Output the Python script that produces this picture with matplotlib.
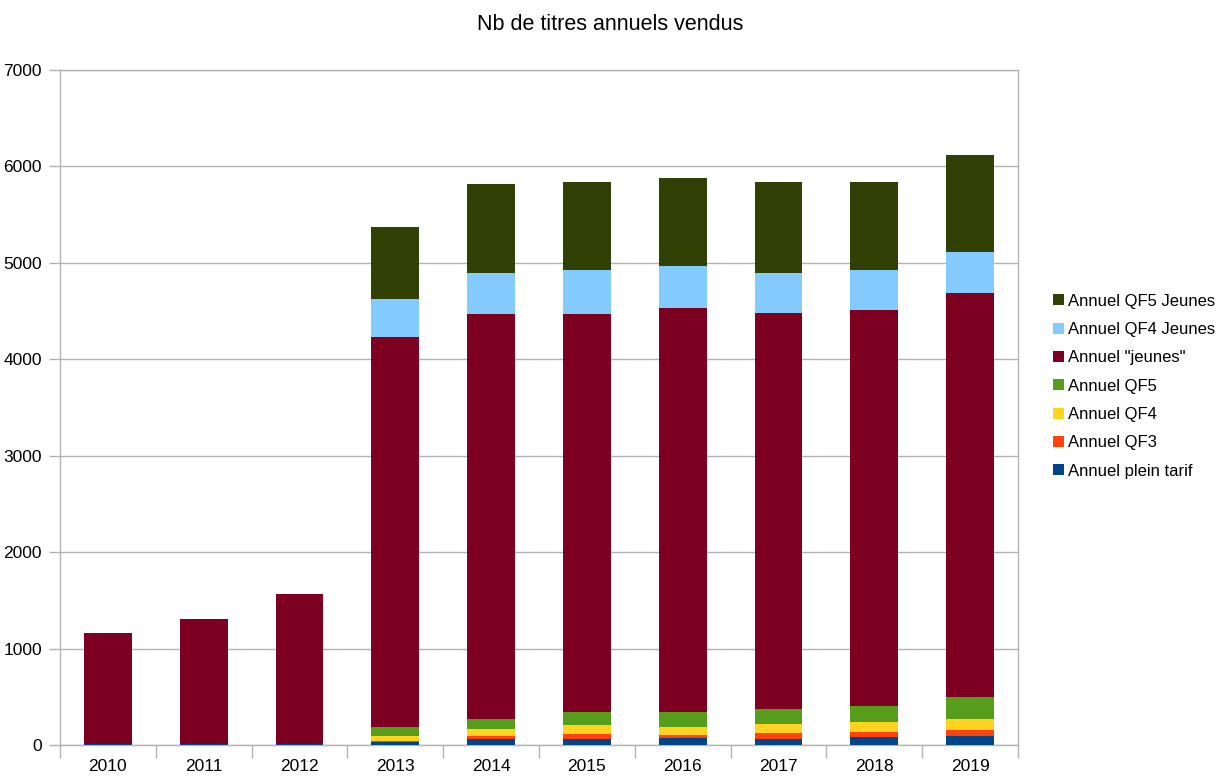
import numpy as np
import matplotlib
matplotlib.use('Agg')
import matplotlib.pyplot as plt
from matplotlib.ticker import FixedLocator, NullFormatter

plt.rcParams['font.family'] = ['Liberation Sans', 'DejaVu Sans']

# données
annees = ['2010', '2011', '2012', '2013', '2014', '2015', '2016', '2017', '2018', '2019']
plein_tarif = [10, 10, 10, 28, 62, 62, 76, 62, 80, 90]
qf3 = [0, 0, 0, 14, 28, 48, 31, 62, 59, 66]
qf4 = [0, 0, 0, 48, 80, 93, 80, 93, 97, 111]
qf5 = [0, 0, 0, 97, 97, 139, 155, 155, 173, 235]
jeunes = [1150, 1295, 1560, 4040, 4198, 4123, 4185, 4107, 4101, 4181]
qf4_jeunes = [0, 0, 0, 394, 425, 456, 442, 411, 411, 427]
qf5_jeunes = [0, 0, 0, 756, 932, 915, 915, 946, 915, 1013]

series = [
    ('Annuel plein tarif', plein_tarif, '#004586'),
    ('Annuel QF3', qf3, '#ff420e'),
    ('Annuel QF4', qf4, '#ffd320'),
    ('Annuel QF5', qf5, '#579d1c'),
    ('Annuel "jeunes"', jeunes, '#7e0021'),
    ('Annuel QF4 Jeunes', qf4_jeunes, '#83caff'),
    ('Annuel QF5 Jeunes', qf5_jeunes, '#314004'),
]

fig = plt.figure(figsize=(12.2, 7.8), dpi=100)
ax = fig.add_axes([60 / 1220, 35 / 780, 958 / 1220, 675 / 780])

x = np.arange(len(annees))
bottom = np.zeros(len(annees))
for nom, vals, couleur in series:
    vals = np.array(vals, dtype=float)
    ax.bar(x, vals, width=0.5, bottom=bottom, color=couleur, label=nom, zorder=3)
    bottom += vals

ax.set_xlim(-0.5, len(annees) - 0.5)
ax.set_ylim(0, 7000)
ax.set_yticks(range(0, 7001, 1000))
ax.yaxis.grid(True, color='#b3b3b3', linewidth=1, zorder=0)

# graduations entre les barres, libellés au centre
ax.xaxis.set_major_locator(FixedLocator(np.arange(-0.5, len(annees), 1.0)))
ax.xaxis.set_major_formatter(NullFormatter())
ax.set_xticks(x, minor=True)
ax.set_xticklabels(annees, minor=True)
ax.tick_params(axis='x', which='major', length=9, color='#b3b3b3', width=1)
ax.tick_params(axis='x', which='minor', length=0, pad=10, labelsize=12.5)
ax.tick_params(axis='y', length=8, color='#b3b3b3', width=1, labelsize=12.5, pad=5)

for s in ax.spines.values():
    s.set_color('#b3b3b3')
    s.set_linewidth(1)

fig.suptitle('Nb de titres annuels vendus', fontsize=15.5, y=0.982)

handles, labels = ax.get_legend_handles_labels()
fig.legend(handles[::-1], labels[::-1], loc='upper left',
           bbox_to_anchor=(1046 / 1220, 1 - 287 / 780), frameon=False,
           fontsize=12, handlelength=0.65, handleheight=0.65,
           handletextpad=0.25, labelspacing=0.8, borderaxespad=0)

fig.savefig('out.png', dpi=100)
